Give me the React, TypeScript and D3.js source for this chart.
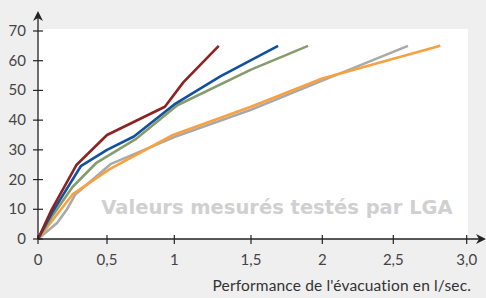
import { useRef, useEffect } from 'react';
import * as d3 from 'd3';

const xTicks = [0, 0.5, 1, 1.5, 2, 2.5, 3];
const xTickLabels = ['0', '0,5', '1', '1,5', '2', '2,5', '3,0'];
const yTicks = [0, 10, 20, 30, 40, 50, 60, 70];

// each series: [débit l/sec, hauteur]
const seriesRed = [[0, 0], [0.1, 10], [0.28, 25], [0.5, 35], [0.93, 44.5], [1.06, 52.8], [1.29, 65]];
const seriesBlue = [[0, 0], [0.1, 8.7], [0.31, 24.5], [0.5, 30], [0.7, 34.5], [1, 45.3], [1.3, 54.7], [1.69, 65]];
const seriesGreen = [[0, 0], [0.1, 7.5], [0.25, 17.5], [0.42, 25.5], [0.71, 33.5], [1.02, 45], [1.5, 57], [1.9, 65]];
const seriesGray = [[0, 0], [0.14, 5.5], [0.21, 10], [0.27, 15], [0.53, 25.3], [1, 34.3], [1.5, 43.5], [2, 53.3], [2.6, 65]];
const seriesOrange = [[0, 0], [0.25, 15], [0.52, 23.5], [0.99, 35], [1.5, 44.5], [2, 54], [2.82, 65]];

const series = [
  { data: seriesGray, color: '#a9a9a9' },
  { data: seriesOrange, color: '#f9a040' },
  { data: seriesGreen, color: '#879c6c' },
  { data: seriesBlue, color: '#11509f' },
  { data: seriesRed, color: '#8c2222' },
];

const Chart = () => {
  const svgRef = useRef<SVGSVGElement>(null);

  useEffect(() => {
    const svg = d3.select(svgRef.current);
    svg.selectAll('*').remove();
    const width = 486, height = 298;

    // the axis in the source is slightly uneven, follow the tick positions
    const x = d3.scaleLinear()
      .domain(xTicks)
      .range([38, 107, 174.3, 251, 322.3, 393.3, 466.7]);
    const y = d3.scaleLinear().domain([0, 70]).range([239, 31]);

    svg.append('rect').attr('width', width).attr('height', height).attr('fill', '#efefef');
    svg.append('rect')
      .attr('x', 38).attr('y', 29)
      .attr('width', 430).attr('height', 210)
      .attr('fill', '#ffffff');

    svg.append('text')
      .attr('x', 277).attr('y', 214)
      .attr('text-anchor', 'middle')
      .attr('font-family', "'DejaVu Sans', sans-serif")
      .attr('font-weight', 'bold')
      .attr('font-size', 19.5)
      .attr('fill', '#d0d0d0')
      .text('Valeurs mesurés testés par LGA');

    const line = d3.line<number[]>()
      .x(d => x(d[0]))
      .y(d => y(d[1]));

    svg.append('g').selectAll('path')
      .data(series)
      .join('path')
      .attr('d', d => line(d.data))
      .attr('fill', 'none')
      .attr('stroke', d => d.color)
      .attr('stroke-width', 2.6)
      .attr('stroke-linejoin', 'round');

    const axisColor = '#222';
    // y axis
    svg.append('line')
      .attr('x1', 38).attr('x2', 38)
      .attr('y1', 239).attr('y2', 14)
      .attr('stroke', axisColor).attr('stroke-width', 1.3);
    svg.append('path')
      .attr('d', 'M38,11 L33,21 L38,18 L43,21 Z')
      .attr('fill', axisColor);
    // x axis
    svg.append('line')
      .attr('x1', 38).attr('x2', 482)
      .attr('y1', 239).attr('y2', 239)
      .attr('stroke', axisColor).attr('stroke-width', 1.3);
    svg.append('path')
      .attr('d', 'M486,239 L476,234 L479,239 L476,244 Z')
      .attr('fill', axisColor);

    const labelFont = 'Lato, sans-serif';

    const yg = svg.append('g');
    yg.selectAll('line')
      .data(yTicks)
      .join('line')
      .attr('x1', 33).attr('x2', 43)
      .attr('y1', d => y(d)).attr('y2', d => y(d))
      .attr('stroke', axisColor).attr('stroke-width', 1.2);
    yg.selectAll('text')
      .data(yTicks)
      .join('text')
      .attr('x', 26)
      .attr('y', d => y(d) + 5)
      .attr('text-anchor', 'end')
      .attr('font-family', labelFont)
      .attr('font-size', 15)
      .attr('fill', '#444')
      .text(d => d);

    const xg = svg.append('g');
    xg.selectAll('line')
      .data(xTicks)
      .join('line')
      .attr('x1', d => x(d)).attr('x2', d => x(d))
      .attr('y1', 235).attr('y2', 244)
      .attr('stroke', axisColor).attr('stroke-width', 1.2);
    xg.selectAll('text')
      .data(xTicks)
      .join('text')
      .attr('x', d => x(d))
      .attr('y', 265)
      .attr('text-anchor', 'middle')
      .attr('font-family', labelFont)
      .attr('font-size', 15)
      .attr('fill', '#444')
      .text((d, i) => xTickLabels[i]);

    svg.append('text')
      .attr('x', 471).attr('y', 291)
      .attr('text-anchor', 'end')
      .attr('font-family', labelFont)
      .attr('font-size', 15.5)
      .attr('letter-spacing', 0.15)
      .attr('fill', '#333')
      .text("Performance de l'évacuation en l/sec.");
  }, []);

  return (
    <svg ref={svgRef} width="486" height="298"
      style={{ position: 'absolute', left: 0, top: 0, display: 'block' }} />
  );
};

export default function App() {
  return <Chart />;
}
